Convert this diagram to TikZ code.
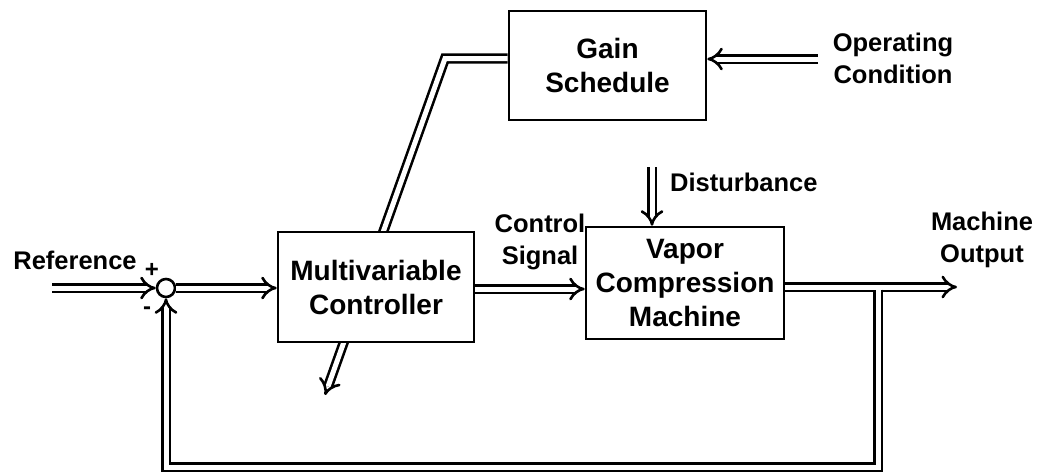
\documentclass[tikz,border=0pt]{standalone}
\usepackage{fontspec}
\setmainfont{Liberation Sans}
\usetikzlibrary{arrows.meta,backgrounds}
\begin{document}
\begin{tikzpicture}[x=1pt,y=-1pt,
  block/.style={draw, fill=white, line width=2.6pt, align=center, inner sep=0pt,
    font=\fontsize{28}{34}\selectfont\bfseries},
  lbl/.style={align=center, inner sep=0pt, font=\fontsize{25.5}{32}\selectfont\bfseries},
  sign/.style={inner sep=0pt, font=\fontsize{24}{28}\selectfont\bfseries},
  dline/.style={double, double distance=5pt, line width=2.6pt},
  darrow/.style={dline, -{Implies}},
  sumnode/.style={draw, fill=white, circle, line width=2.6pt, minimum size=18pt, inner sep=0pt}]
\useasboundingbox (0,0) rectangle (1038,474);

% blocks
\node[block, minimum width=197pt, minimum height=109pt] (gain) at (607.5,65.5) {Gain\\Schedule};
\node[block, minimum width=196pt, minimum height=110pt] (ctrl) at (376,287) {Multivariable\\Controller};
\node[block, minimum width=198pt, minimum height=112pt] (plant) at (685,283) {Vapor\\Compression\\Machine};
\node[sumnode] (sum) at (166,288) {};

% labels
\node[lbl] (ref) at (75,260) {Reference};
\node[sign] (plus) at (152,270) {+};
\node[sign] (minus) at (147,311) {-};
\node[lbl] (opc) at (893,58) {Operating\\Condition};
\node[lbl, anchor=west] (dist) at (670,182) {Disturbance};
\node[lbl] (csig) at (540,242) {Control\\Signal};
\node[lbl] (mout) at (982,240) {Machine\\Output};

% free ends
\coordinate (refin) at (52,288);
\coordinate (opin) at (818,59);
\coordinate (distin) at (652,167);
\coordinate (outend) at (957,287);
\coordinate (branch) at (878,289.6);
\coordinate (corner) at (445,58.5);
\coordinate (schedtip) at (325,395);

% scheduling line passes behind the controller block
\begin{scope}[on background layer]
\draw[darrow] (gain.west |- corner) -- (corner) -- (schedtip);
\end{scope}

% signal paths
\draw[darrow] (refin) -- (sum.west);
\draw[darrow] (sum.east) -- (ctrl.west |- sum.east);
\draw[darrow] (ctrl.east |- 0,289) -- (plant.west |- 0,289);
\draw[darrow] (opin) -- (gain.east |- opin);
\draw[darrow] (distin) -- (plant.north -| distin);
\draw[darrow] (plant.east |- outend) -- (outend);
\draw[darrow] (branch) -- (branch |- 0,467) -- (sum.south |- 0,467) -- (sum.south);
\end{tikzpicture}
\end{document}
